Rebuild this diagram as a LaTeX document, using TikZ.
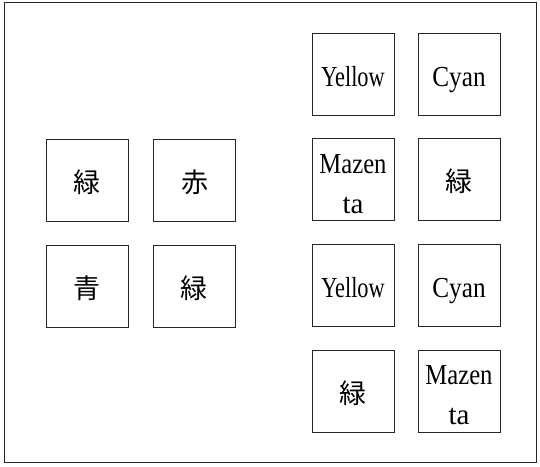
\documentclass[tikz,border=0pt]{standalone}
\usepackage{fontspec}
\setmainfont{Liberation Serif}
\newfontfamily\jpfont{Noto Sans CJK JP}
\tikzset{
  cell/.style={draw=black!85, line width=1pt, minimum width=82pt, minimum height=82pt, inner sep=0pt},
  lat/.style={anchor=base, inner sep=0pt, font=\fontsize{29}{38}\selectfont},
  kan/.style={inner sep=0pt, font=\jpfont\fontsize{27}{30}\selectfont},
  frame/.style={draw=black!85, line width=1pt}
}
\newcommand{\nar}[2]{\scalebox{#1}[1]{#2}}
\begin{document}
\begin{tikzpicture}[x=1pt,y=-1pt]
\useasboundingbox (0,0) rectangle (540,466);
\draw[frame] (4,2) rectangle (536,462);
% left group
\node[cell] (g1) at (87,180) {};
\node[cell] (r1) at (194.5,180) {};
\node[cell] (b1) at (87,286) {};
\node[cell] (g2) at (194,286) {};
\node[kan] (tg1) at ([yshift=-2pt]g1.center) {緑};
\node[kan] (tr1) at ([yshift=-2pt]r1.center) {赤};
\node[kan] (tb1) at ([yshift=-2pt]b1.center) {青};
\node[kan] (tg2) at ([yshift=-2pt]g2.center) {緑};
% right group
\node[cell] (y1) at (353,74.5) {};
\node[cell] (c1) at (459,74.5) {};
\node[cell] (m1) at (353,179.5) {};
\node[cell] (g3) at (459,179.5) {};
\node[cell] (y2) at (353,285.5) {};
\node[cell] (c2) at (459,285.5) {};
\node[cell] (g4) at (353,391) {};
\node[cell] (m2) at (459,391) {};
\node[lat] (ty1) at ([yshift=-11.5pt]y1.center) {\nar{0.77}{Yellow}};
\node[lat] (tc1) at ([yshift=-11.5pt]c1.center) {\nar{0.87}{Cyan}};
\node[lat] (tm1a) at ([yshift=6.2pt]m1.center) {\nar{0.85}{Mazen}};
\node[lat] (tm1b) at ([yshift=-33.8pt]m1.center) {ta};
\node[kan] (tg3) at ([yshift=-2pt]g3.center) {緑};
\node[lat] (ty2) at ([yshift=-11.5pt]y2.center) {\nar{0.77}{Yellow}};
\node[lat] (tc2) at ([yshift=-11.5pt]c2.center) {\nar{0.87}{Cyan}};
\node[kan] (tg4) at ([yshift=-2pt]g4.center) {緑};
\node[lat] (tm2a) at ([yshift=6.2pt]m2.center) {\nar{0.85}{Mazen}};
\node[lat] (tm2b) at ([yshift=-33.8pt]m2.center) {ta};
\end{tikzpicture}
\end{document}
